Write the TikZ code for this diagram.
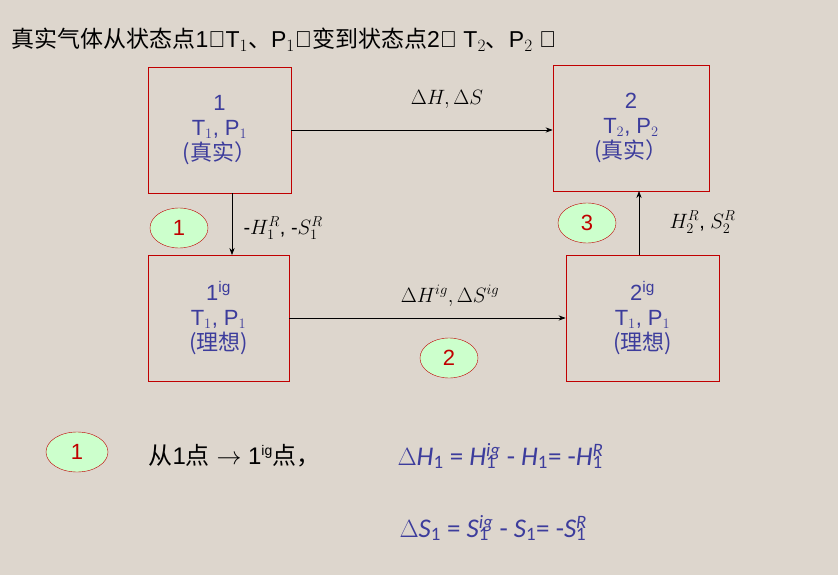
\documentclass[tikz,border=0pt]{standalone}
\usepackage{fontspec}
\usetikzlibrary{shapes.geometric,arrows.meta}
\setmainfont{Liberation Sans}
\newfontfamily\cjk{Noto Sans CJK SC}
\newfontfamily\mth[ItalicFont=Carlito Italic]{Carlito}
\definecolor{bg}{HTML}{DDD6CD}
\definecolor{bl}{HTML}{3C3C9C}
\definecolor{rd}{HTML}{C00000}
\definecolor{gr}{HTML}{CCFFCC}
\newcommand{\mi}[1]{{\mth\itshape #1}}
\newcommand{\sbsp}[2]{\rlap{\textsubscript{\mth 1}}\textsuperscript{\mi{#2}}}
\begin{document}
\begin{tikzpicture}[x=1pt,y=-1pt,
  box/.style={draw=rd,line width=0.8pt,align=center,text=bl,font=\fontsize{22}{25}\selectfont,inner sep=0pt},
  oval/.style={ellipse,draw=rd,fill=gr,text=rd,minimum width=58pt,minimum height=40pt,font=\fontsize{22}{22}\selectfont,inner sep=0pt},
  lab/.style={font=\fontsize{20}{22}\selectfont},
  arr/.style={-{Stealth[length=7pt]},line width=0.7pt}]
\fill[bg] (0,0) rectangle (838,575);
\node[anchor=west,font=\fontsize{23}{25}\selectfont] (title) at (8,40) {{\cjk 真实气体从状态点}1（T$_1${\cjk 、}P$_1$）{\cjk 变到状态点}2（ T$_2${\cjk 、}P$_2$ ）};
\node[box,minimum width=143pt,minimum height=126pt] (b1) at (219.5,130) {1\\T$_1$, P$_1$\\{\cjk (真实）}};
\node[box,minimum width=156pt,minimum height=126pt] (b2) at (631,128) {2\\T$_2$, P$_2$\\{\cjk (真实）}};
\node[box,minimum width=141pt,minimum height=126pt] (b3) at (218.5,318) {1\textsuperscript{ig}\\T$_1$, P$_1$\\{\cjk (理想)}};
\node[box,minimum width=153pt,minimum height=126pt] (b4) at (642.5,318) {2\textsuperscript{ig}\\T$_1$, P$_1$\\{\cjk (理想)}};
\draw[arr] (b1.east |- 0,130) -- (b2.west |- 0,130);
\draw[arr] (b3.east |- 0,318) -- (b4.west |- 0,318);
\draw[arr] (232,193) -- (232,255);
\draw[arr] (639,255) -- (639,191);
\node[lab] (l1) at (447,99) {$\Delta H, \Delta S$};
\node[lab] (l2) at (450,296) {$\Delta H^{ig}, \Delta S^{ig}$};
\node[lab,anchor=west] (l3) at (240,228) {-$H_1^R$, -$S_1^R$};
\node[lab,anchor=west] (l4) at (666,222) {$H_2^R$, $S_2^R$};
\node[oval] (e1) at (179,228) {1};
\node[oval] (e3) at (587,223) {3};
\node[oval] (e2) at (449,358) {2};
\node[oval,minimum width=62pt] (e4) at (77,452) {1};
\node[anchor=west,font=\fontsize{24}{26}\selectfont] (t1) at (145,456) {{\cjk 从}1{\cjk 点} $\rightarrow$ 1\textsuperscript{\fontsize{14}{14}\selectfont ig}{\cjk 点，}};
\node[anchor=west,text=bl,font=\fontsize{27}{29}\selectfont\mth] (t2) at (394,456) {$\Delta$\mi{H}\textsubscript{1} = \mi{H}\sbsp{1}{ig} - \mi{H}\textsubscript{1}= -\mi{H}\sbsp{1}{R}};
\node[anchor=west,text=bl,font=\fontsize{27}{29}\selectfont\mth] (t3) at (396,528) {$\Delta$\mi{S}\textsubscript{1} = \mi{S}\sbsp{1}{ig} - \mi{S}\textsubscript{1}= -\mi{S}\sbsp{1}{R}};
\end{tikzpicture}
\end{document}
